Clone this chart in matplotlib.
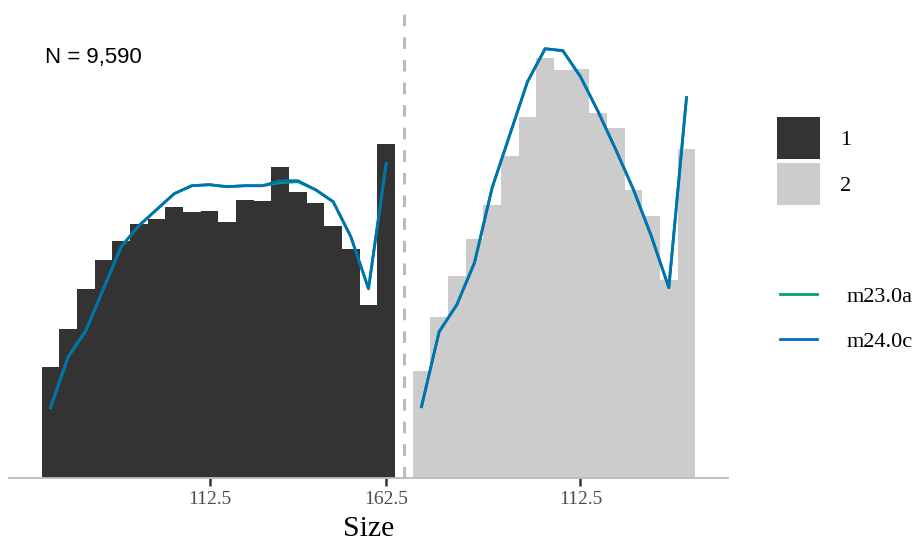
import numpy as np
import matplotlib.pyplot as plt
from matplotlib.patches import Patch
from matplotlib.lines import Line2D

# histogram bins (width 5), group 2 is drawn shifted to the right
bin_width = 5
edges1 = np.arange(65, 165, 5)   # group 1 bins 65..165
edges2 = np.arange(65, 145, 5)   # group 2 bins 65..145
shift = 105
sep = 167.5

counts1 = [111, 149, 189, 218, 237, 254, 259, 271, 266, 267,
           256, 278, 277, 311, 286, 275, 252, 229, 173, 334]
counts2 = [107, 161, 202, 239, 273, 322, 361, 420, 408, 409,
           365, 350, 288, 262, 198, 329]

# model curves at the bin centres
m24c_1 = [70, 121, 147, 189, 231, 252, 268, 284, 292, 293,
          291, 292, 292, 297, 297, 288, 276, 241, 189, 314]
m24c_2 = [71, 146, 173, 215, 290, 343, 396, 429, 427, 401,
          366, 328, 288, 242, 190, 380]
m23a_1 = [70, 121, 147, 189, 231, 252, 268, 284, 292, 293,
          291, 292, 292, 295, 296, 288, 276, 241, 189, 314]
m23a_2 = [71, 146, 173, 215, 290, 343, 396, 429, 427, 401,
          366, 328, 288, 242, 190, 380]

tick_pos = [112.5, 162.5, 112.5 + shift]
tick_lab = ["112.5", "162.5", "112.5"]
n_total = 9590

dark = "#333333"
light = "#CCCCCC"
green = "#009E73"
blue = "#0072B2"

fig = plt.figure(figsize=(9.16, 5.48), dpi=100)
ax = fig.add_axes([9 / 916, 1 - 477.7 / 548, (728 - 9) / 916, (477.7 - 6) / 548])

ax.bar(edges1, counts1, width=bin_width, align="edge", color=dark, linewidth=0)
ax.bar(edges2 + shift, counts2, width=bin_width, align="edge", color=light, linewidth=0)

c1 = edges1 + bin_width / 2
c2 = edges2 + bin_width / 2 + shift
ax.plot(c1, m23a_1, color=green, lw=2)
ax.plot(c2, m23a_2, color=green, lw=2)
ax.plot(c1, m24c_1, color=blue, lw=2)
ax.plot(c2, m24c_2, color=blue, lw=2)

ax.axvline(sep, color="#BBBBBB", lw=2.2, ls=(0, (3.8, 3.6)))

ax.set_xlim(55.75, 259.25)
ax.set_ylim(0, 471.7)
for s in ["left", "right", "top"]:
    ax.spines[s].set_visible(False)
ax.spines["bottom"].set_color("#BBBBBB")
ax.spines["bottom"].set_linewidth(1.3)
ax.set_yticks([])
ax.set_xticks(tick_pos)
ax.set_xticklabels(tick_lab, family="Liberation Serif", fontsize=14, color="#4D4D4D")
ax.tick_params(axis="x", length=5.5, width=1.8, color="#333333", pad=4)
ax.set_xlabel("Size", family="Liberation Serif", fontsize=21.5, labelpad=6)

# N label, pixel coordinates
ax.text(45, 548 - 57, "N = {:,}".format(n_total), transform=None, family="Liberation Sans",
        fontsize=16, va="center", ha="left")

h_fill = [Patch(facecolor=dark, edgecolor="none"), Patch(facecolor=light, edgecolor="none")]
leg1 = fig.legend(h_fill, ["1", "2"], loc="upper left", bbox_to_anchor=(777 / 916, 1 - 117 / 548),
                  frameon=False, borderpad=0, borderaxespad=0, handlelength=1.94, handleheight=2.53,
                  labelspacing=0.18, handletextpad=0.9,
                  prop={"family": "Liberation Serif", "size": 16})
h_line = [Line2D([], [], color=green, lw=2), Line2D([], [], color=blue, lw=2)]
leg2 = fig.legend(h_line, ["m23.0a", "m24.0c"], loc="upper left", bbox_to_anchor=(780 / 916, 1 - 286 / 548),
                  frameon=False, borderpad=0, borderaxespad=0, handlelength=1.67,
                  labelspacing=1.13, handletextpad=1.34,
                  prop={"family": "Liberation Serif", "size": 16})

fig.savefig("out.png", dpi=100)
